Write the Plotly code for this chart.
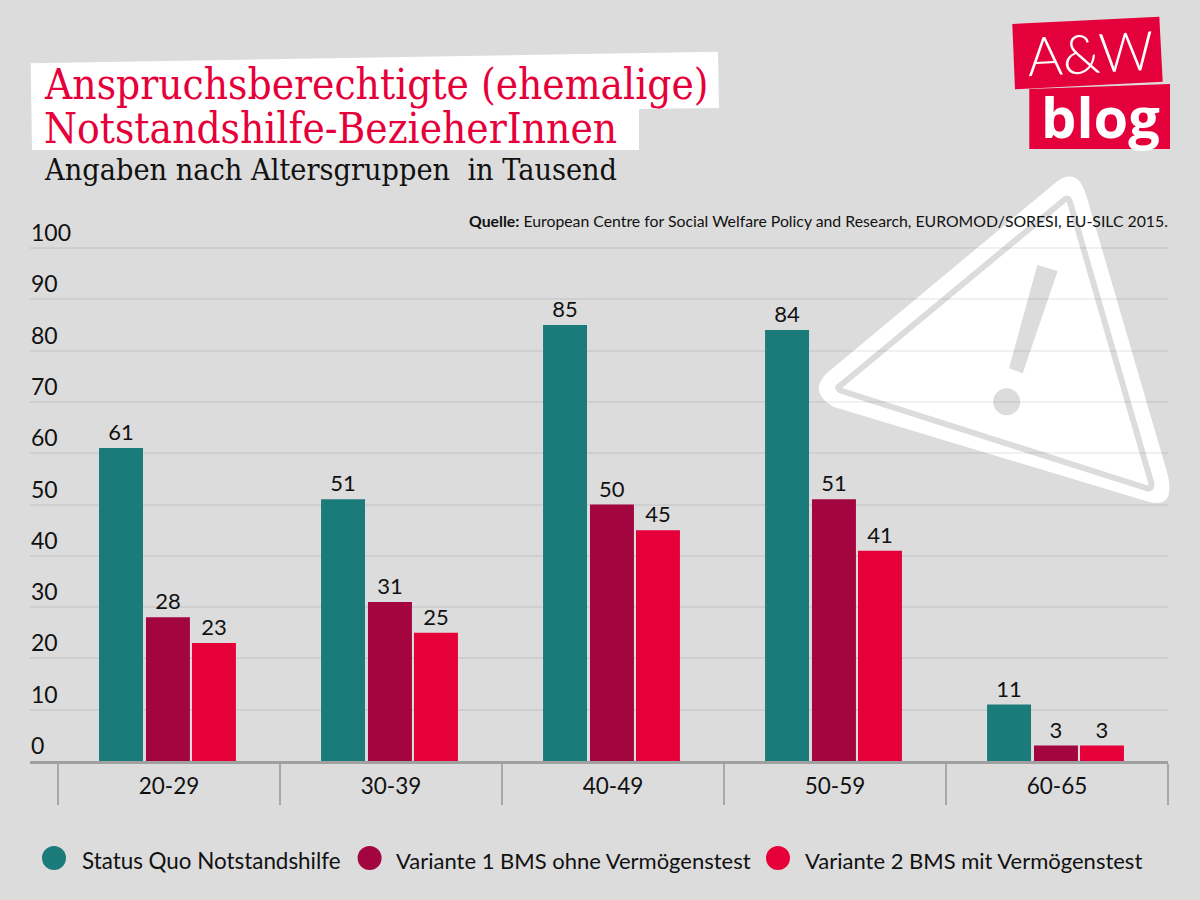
import plotly.graph_objects as go

categories = ["20-29", "30-39", "40-49", "50-59", "60-65"]
status_quo = [61, 51, 85, 84, 11]
variante_1 = [28, 31, 50, 51, 3]
variante_2 = [23, 25, 45, 41, 3]
y_ticks = [0, 10, 20, 30, 40, 50, 60, 70, 80, 90, 100]
series_names = ["Status Quo Notstandshilfe", "Variante 1 BMS ohne Vermögenstest", "Variante 2 BMS mit Vermögenstest"]
series_colors = ["#1b7b7a", "#a3063f", "#e6003a"]
bar_offsets = [-0.315, -0.1036, 0.1036]

BODY = "Lato"
SERIF = "DejaVu Serif Condensed"
L, R, T, B = 30, 1168, 215, 761
Y_MAX = (B - T) / 5.13


def px(x):
    return (x - L) / (R - L)


def py(y):
    return (B - y) / (B - T)


def path(points, close=True):
    s = "M " + " L ".join(f"{px(x):.5f},{py(y):.5f}" for x, y in points)
    return s + (" Z" if close else "")


def rounded(segments):
    s = ""
    for i, (a, c, e) in enumerate(segments):
        s += ("M " if i == 0 else " L ") + f"{px(a[0]):.5f},{py(a[1]):.5f}"
        s += f" Q {px(c[0]):.5f},{py(c[1]):.5f} {px(e[0]):.5f},{py(e[1]):.5f}"
    return s + " Z"


def shape_path(d, fill, line=None, width=0):
    return dict(type="path", xref="paper", yref="paper", path=d, fillcolor=fill,
                line=dict(color=line or fill, width=width), layer="below")


def circle(cx, cy, r, fill, layer="above"):
    return dict(type="circle", xref="paper", yref="paper", x0=px(cx - r), x1=px(cx + r),
                y0=py(cy + r), y1=py(cy - r), fillcolor=fill, line=dict(width=0), layer=layer)


def text(x, y, s, size, color="#111111", family=BODY, anchor="left", angle=0, weight=None):
    f = dict(size=size, color=color, family=family)
    if weight:
        f["weight"] = weight
    return dict(xref="paper", yref="paper", x=px(x), y=py(y), text=s, showarrow=False,
                xanchor=anchor, yanchor="middle", textangle=angle, font=f)


fig = go.Figure()
for name, vals, col, off in zip(series_names, [status_quo, variante_1, variante_2], series_colors, bar_offsets):
    fig.add_trace(go.Bar(x=categories, y=vals, name=name, marker=dict(color=col, line=dict(width=0)),
                         width=0.198, offset=off,
                         text=vals, textposition="outside", cliponaxis=False, showlegend=False,
                         textfont=dict(size=22, color="#111111", family=BODY)))

shapes = [
    # warning sign
    shape_path(rounded([((1056.7, 181.7), (1078, 166), (1086.7, 196.7)),
                        ((1167, 472), (1177, 511), (1146, 501)),
                        ((833.3, 406.7), (808, 392), (826.7, 373.3))]), "#ffffff"),
    shape_path(rounded([((1064, 200), (1068, 196), (1070, 202)),
                        ((1151, 482), (1153, 490), (1146, 488)),
                        ((842, 391), (835, 388), (841, 385))]), "#ffffff", "#dcdcdc", 6),
    shape_path(path([(1037.3, 265), (1057.7, 271), (1022.7, 373.3), (1009, 368.3)]), "#dcdcdc"),
    circle(1006.7, 401.7, 13.5, "#dcdcdc", "below"),
    # title highlight
    shape_path(path([(30.7, 63.3), (718, 51.7), (719, 108), (639, 109), (639, 150), (32, 150)]), "#ffffff"),
    # logo
    shape_path(path([(1012.3, 24), (1159.3, 16.7), (1162.7, 81.7), (1015, 89.3)]), "#e4003a"),
    shape_path(path([(1029.3, 89), (1170, 84), (1170, 149), (1029.3, 149)]), "#e4003a"),
    # first category boundary tick
    dict(type="line", xref="paper", yref="paper", x0=px(58), x1=px(58), y0=py(763), y1=py(805),
         line=dict(color="#a8a8a8", width=2)),
]
for cx, col in zip([54, 369.6, 778], series_colors):
    shapes.append(circle(cx, 858, 12, col))

annotations = [
    text(42, 85, "Anspruchsberechtigte (ehemalige)", 42, "#e6003a", SERIF),
    text(42, 129, "Notstandshilfe-BezieherInnen", 42, "#e6003a", SERIF),
    text(42, 169, "Angaben nach Altersgruppen  in Tausend", 30.3, "#111111", SERIF),
    text(1170, 221, "<b>Quelle:</b> European Centre for Social Welfare Policy and Research, EUROMOD/SORESI, EU-SILC 2015.",
         15.8, "#111111", BODY, "right"),
    text(1090, 53, "A&amp;W", 54, "#ffffff", BODY, "center", -3, 300),
    text(1100, 116, "<b>blog</b>", 56, "#ffffff", "Open Sans", "center"),
    text(80, 860, series_names[0], 22.4, "#111111"),
    text(394, 860, series_names[1], 22, "#111111"),
    text(803, 860, series_names[2], 22, "#111111"),
]

fig.update_layout(
    width=1200, height=900, margin=dict(l=L, r=1200 - R, t=T, b=900 - B, pad=0),
    paper_bgcolor="#dcdcdc", plot_bgcolor="rgba(0,0,0,0)",
    barmode="group",
    shapes=shapes, annotations=annotations,
    xaxis=dict(type="category", range=[-0.626, 4.5], showline=True, linecolor="#a0a0a0", linewidth=3,
               ticks="outside", ticklen=41, tickwidth=2, tickcolor="#a8a8a8", tickson="boundaries",
               showgrid=False, ticklabelstandoff=3,
               tickfont=dict(size=22.5, color="#111111", family=BODY)),
    yaxis=dict(range=[0, Y_MAX], tickvals=y_ticks, showgrid=True, gridcolor="rgba(0,0,0,0.055)", gridwidth=1.5,
               zeroline=False, showline=False, ticks="", ticklabelposition="inside",
               ticklabelshift=-15, ticklabelstandoff=-2,
               tickfont=dict(size=23, color="#111111", family=BODY)),
)

fig.write_html("out.html", config=dict(displayModeBar=False),
               post_script="document.body.style.margin='0';document.body.style.overflow='hidden';")
